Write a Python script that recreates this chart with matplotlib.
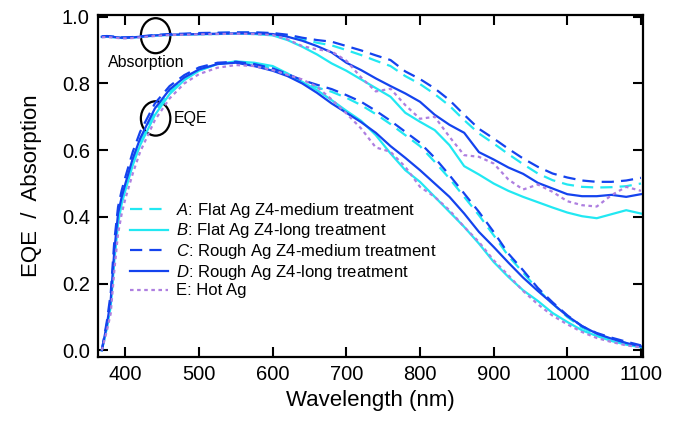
import matplotlib
matplotlib.use("Agg")
import matplotlib.pyplot as plt
from matplotlib.patches import Ellipse

plt.rcParams["font.family"] = ["Liberation Sans", "DejaVu Sans"]
plt.rcParams["mathtext.fontset"] = "custom"
plt.rcParams["mathtext.rm"] = "Liberation Sans"
plt.rcParams["mathtext.it"] = "Liberation Sans:italic"

# wavelength grid (nm)
wl = [368, 375, 380, 385, 390, 395, 400, 410, 420, 440, 460, 480, 500, 525, 550, 575,
      600, 620, 640, 660, 680, 700, 720, 740, 760, 780, 800, 820, 840, 860, 880, 900,
      920, 940, 960, 980, 1000, 1020, 1040, 1060, 1080, 1100]

# absorption curves
abs_a = [0.940, 0.941, 0.940, 0.939, 0.938, 0.937, 0.937, 0.938, 0.940, 0.944, 0.947, 0.948, 0.950, 0.951, 0.952, 0.952,
         0.950, 0.943, 0.932, 0.922, 0.914, 0.900, 0.885, 0.868, 0.852, 0.822, 0.798, 0.768, 0.733, 0.690, 0.650, 0.620,
         0.588, 0.558, 0.530, 0.510, 0.497, 0.490, 0.488, 0.489, 0.492, 0.500]
abs_b = [0.939, 0.940, 0.939, 0.938, 0.937, 0.936, 0.936, 0.937, 0.939, 0.943, 0.945, 0.946, 0.947, 0.948, 0.949, 0.948,
         0.944, 0.930, 0.910, 0.887, 0.860, 0.838, 0.812, 0.786, 0.760, 0.712, 0.685, 0.660, 0.615, 0.552, 0.527, 0.500,
         0.478, 0.460, 0.444, 0.428, 0.413, 0.402, 0.396, 0.408, 0.420, 0.410]
abs_c = [0.941, 0.942, 0.941, 0.940, 0.939, 0.938, 0.938, 0.939, 0.941, 0.945, 0.948, 0.949, 0.951, 0.952, 0.953, 0.953,
         0.951, 0.946, 0.937, 0.930, 0.925, 0.912, 0.899, 0.884, 0.870, 0.836, 0.813, 0.785, 0.750, 0.706, 0.664, 0.635,
         0.604, 0.575, 0.550, 0.530, 0.518, 0.509, 0.505, 0.505, 0.509, 0.517]
abs_d = [0.940, 0.941, 0.940, 0.939, 0.938, 0.937, 0.937, 0.938, 0.940, 0.944, 0.946, 0.947, 0.948, 0.949, 0.950, 0.950,
         0.948, 0.940, 0.928, 0.912, 0.893, 0.862, 0.840, 0.815, 0.792, 0.770, 0.745, 0.706, 0.676, 0.652, 0.594, 0.572,
         0.548, 0.529, 0.502, 0.485, 0.468, 0.462, 0.462, 0.466, 0.460, 0.468]
abs_e = [0.938, 0.939, 0.938, 0.937, 0.936, 0.935, 0.935, 0.936, 0.938, 0.942, 0.945, 0.946, 0.947, 0.948, 0.949, 0.948,
         0.945, 0.932, 0.912, 0.902, 0.896, 0.868, 0.818, 0.776, 0.784, 0.735, 0.694, 0.700, 0.640, 0.585, 0.580, 0.560,
         0.512, 0.482, 0.497, 0.475, 0.447, 0.435, 0.431, 0.465, 0.490, 0.478]

# EQE curves
eqe_a = [0.00, 0.07, 0.14, 0.28, 0.39, 0.45, 0.49, 0.565, 0.625, 0.715, 0.775, 0.815, 0.840, 0.858, 0.864, 0.858,
         0.845, 0.826, 0.802, 0.788, 0.775, 0.757, 0.735, 0.708, 0.678, 0.645, 0.612, 0.565, 0.515, 0.460, 0.405, 0.345,
         0.283, 0.233, 0.182, 0.140, 0.100, 0.068, 0.048, 0.034, 0.022, 0.013]
eqe_b = [0.00, 0.07, 0.13, 0.27, 0.38, 0.44, 0.48, 0.555, 0.615, 0.705, 0.768, 0.810, 0.838, 0.858, 0.866, 0.862,
         0.852, 0.830, 0.805, 0.780, 0.750, 0.718, 0.688, 0.645, 0.590, 0.540, 0.505, 0.460, 0.415, 0.370, 0.320, 0.265,
         0.220, 0.180, 0.148, 0.112, 0.085, 0.060, 0.043, 0.028, 0.017, 0.009]
eqe_c = [0.00, 0.09, 0.17, 0.33, 0.43, 0.48, 0.52, 0.595, 0.655, 0.740, 0.792, 0.825, 0.848, 0.862, 0.865, 0.858,
         0.845, 0.828, 0.810, 0.796, 0.783, 0.765, 0.745, 0.718, 0.688, 0.655, 0.622, 0.577, 0.525, 0.470, 0.415, 0.355,
         0.290, 0.240, 0.187, 0.144, 0.105, 0.072, 0.052, 0.038, 0.026, 0.015]
eqe_d = [0.00, 0.08, 0.15, 0.30, 0.41, 0.46, 0.50, 0.575, 0.635, 0.725, 0.782, 0.818, 0.842, 0.858, 0.862, 0.852,
         0.838, 0.822, 0.800, 0.772, 0.740, 0.712, 0.684, 0.652, 0.612, 0.577, 0.540, 0.500, 0.460, 0.410, 0.355, 0.310,
         0.263, 0.218, 0.178, 0.140, 0.103, 0.073, 0.050, 0.035, 0.022, 0.012]
eqe_e = [0.00, 0.06, 0.11, 0.24, 0.35, 0.41, 0.455, 0.530, 0.595, 0.690, 0.755, 0.800, 0.828, 0.847, 0.855, 0.852,
         0.840, 0.826, 0.812, 0.790, 0.752, 0.710, 0.665, 0.608, 0.595, 0.550, 0.490, 0.460, 0.420, 0.370, 0.325, 0.270,
         0.225, 0.178, 0.138, 0.104, 0.078, 0.055, 0.037, 0.025, 0.015, 0.009]

labels = [r"$\mathit{A}$: Flat Ag Z4-medium treatment",
          r"$\mathit{B}$: Flat Ag Z4-long treatment",
          r"$\mathit{C}$: Rough Ag Z4-medium treatment",
          r"$\mathit{D}$: Rough Ag Z4-long treatment",
          "E: Hot Ag"]

cyan = "#22E8F2"
blue = "#1443EE"
purple = "#AE7FE0"
styles = [
    dict(color=cyan, dashes=(5.5, 3.2)),
    dict(color=cyan, linestyle="-"),
    dict(color=blue, dashes=(5.5, 3.2)),
    dict(color=blue, linestyle="-"),
    dict(color=purple, dashes=(1.6, 1.6)),
]

fig = plt.figure(figsize=(6.77, 4.23), dpi=100)
ax = fig.add_axes([0.145, 0.156, 0.805, 0.8085])

for ab, eq, lab, st in zip([abs_a, abs_b, abs_c, abs_d, abs_e],
                           [eqe_a, eqe_b, eqe_c, eqe_d, eqe_e], labels, styles):
    ax.plot(wl, ab, lw=1.6, **st)
    ax.plot(wl, eq, lw=1.6, label=lab, **st)

ax.set_xlim(363, 1103)
ax.set_ylim(-0.02, 1.005)
ax.set_xticks([400, 500, 600, 700, 800, 900, 1000, 1100])
ax.set_yticks([0.0, 0.2, 0.4, 0.6, 0.8, 1.0])
ax.set_yticklabels(["0.0", "0.2", "0.4", "0.6", "0.8", "1.0"])
ax.tick_params(direction="in", length=7, width=1.5, labelsize=14.5, top=True, right=True, pad=6)
for sp in ax.spines.values():
    sp.set_linewidth(1.6)

ax.set_xlabel("Wavelength (nm)", fontsize=16, labelpad=4)
ax.set_ylabel("EQE  /  Absorption", fontsize=16, labelpad=14)

ax.add_patch(Ellipse((441, 0.943), 40, 0.105, fill=False, lw=1.6, ec="black"))
ax.add_patch(Ellipse((441, 0.695), 40, 0.103, fill=False, lw=1.6, ec="black"))
ax.text(376, 0.862, "Absorption", fontsize=11.5, va="center", ha="left")
ax.text(465, 0.695, "EQE", fontsize=11.5, va="center", ha="left")

ax.legend(loc="center left", bbox_to_anchor=(0.058, 0.314), frameon=False, fontsize=12,
          borderpad=0, borderaxespad=0, handlelength=2.3, handletextpad=0.5, labelspacing=0.1)

fig.savefig("out.png", dpi=100)
plt.close(fig)
